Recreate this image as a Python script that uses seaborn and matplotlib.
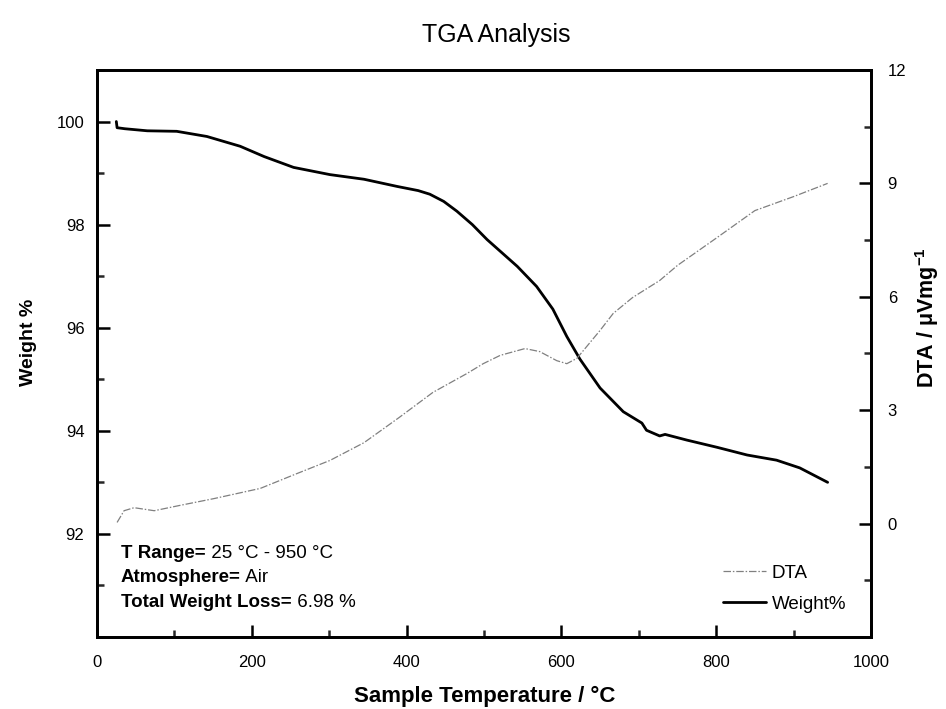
import matplotlib
matplotlib.use("Agg")
import matplotlib.pyplot as plt
import seaborn as sns
import pandas as pd
from matplotlib.ticker import MultipleLocator

# ---- data ----
weight_temp = [25, 26, 36, 65, 103, 142, 185, 216, 254, 301, 345, 388, 415, 430, 448,
               465, 485, 504, 543, 568, 589, 607, 624, 650, 680, 704, 710, 727, 734,
               762, 801, 840, 878, 908, 944]
weight_pct = [100.0, 99.88, 99.86, 99.82, 99.81, 99.71, 99.52, 99.32, 99.11, 98.97,
              98.88, 98.74, 98.66, 98.59, 98.45, 98.26, 98.00, 97.71, 97.19, 96.80,
              96.36, 95.83, 95.39, 94.83, 94.37, 94.15, 94.01, 93.90, 93.93, 93.82,
              93.68, 93.53, 93.43, 93.28, 93.00]

dta_temp = [26, 35, 48, 74, 107, 151, 211, 258, 301, 345, 390, 434, 478, 499, 521,
            553, 572, 594, 607, 620, 650, 667, 692, 727, 750, 800, 850, 900, 944]
dta_val = [0.03, 0.34, 0.42, 0.34, 0.48, 0.66, 0.93, 1.32, 1.67, 2.14, 2.80, 3.47,
           3.97, 4.23, 4.45, 4.63, 4.55, 4.31, 4.23, 4.37, 5.11, 5.56, 5.98, 6.43,
           6.83, 7.55, 8.28, 8.65, 9.00]

left_ticks = [92, 94, 96, 98, 100]
right_ticks = [0, 3, 6, 9, 12]
x_ticks = [0, 200, 400, 600, 800, 1000]

title = "TGA Analysis"
x_label = "Sample Temperature / °C"
y_left_label = "Weight %"
y_right_label = r"DTA / $\mathregular{\mu}$Vmg$^{\mathregular{-1}}$"
info_bold = ["T Range=", "Atmosphere=", "Total Weight Loss="]
info_norm = [" 25 °C - 950 °C", " Air", " 6.98 %"]

df_w = pd.DataFrame({"T": weight_temp, "W": weight_pct})
df_d = pd.DataFrame({"T": dta_temp, "D": dta_val})

sns.set_style("ticks")
plt.rcParams["font.family"] = ["Liberation Sans", "DejaVu Sans"]
plt.rcParams["text.color"] = "black"
plt.rcParams["axes.labelcolor"] = "black"
plt.rcParams["mathtext.fontset"] = "custom"
plt.rcParams["mathtext.rm"] = "Liberation Sans:bold"
plt.rcParams["mathtext.bf"] = "Liberation Sans:bold"
plt.rcParams["mathtext.it"] = "Liberation Sans:bold"

fig = plt.figure(figsize=(9.46, 7.09), dpi=100)
ax = fig.add_axes([0.1025, 0.1016, 0.8182, 0.7997])
ax2 = ax.twinx()

sns.lineplot(data=df_w, x="T", y="W", ax=ax, color="black", linewidth=2.0,
             sort=False, estimator=None, label="Weight%", legend=False)
sns.lineplot(data=df_d, x="T", y="D", ax=ax2, color="#808080", linewidth=0.9,
             sort=False, estimator=None, label="DTA", legend=False)
ax2.lines[0].set_dashes([6, 1.5, 1.2, 1.5])

ax.set_xlim(0, 1000)
ax.set_ylim(90, 101)
ax2.set_ylim(-3, 12)

ax.set_xticks(x_ticks)
ax.xaxis.set_minor_locator(MultipleLocator(100))
ax.set_yticks(left_ticks)
ax.yaxis.set_minor_locator(MultipleLocator(1))
ax2.set_yticks(right_ticks)
ax2.yaxis.set_minor_locator(MultipleLocator(1.5))

for a in (ax, ax2):
    for s in a.spines.values():
        s.set_visible(True)
        s.set_linewidth(2.0)
        s.set_color("black")
    a.tick_params(which="major", direction="in", length=9, width=1.8,
                  labelsize=12, colors="black")
    a.tick_params(which="minor", direction="in", length=5, width=1.8)

ax.tick_params(axis="x", which="both", top=False)
ax.tick_params(axis="x", which="major", pad=13)
ax.tick_params(axis="y", which="both", right=False)
ax.tick_params(axis="y", which="major", pad=9)
ax2.tick_params(axis="y", which="both", left=False, right=True)
ax2.tick_params(axis="y", which="major", pad=12)
ax2.tick_params(axis="x", which="both", top=False, bottom=False)

ax.set_xlabel(x_label, fontsize=16, fontweight="bold")
ax.xaxis.set_label_coords(0.5007, -0.087)
ax.set_ylabel(y_left_label, fontsize=14, fontweight="bold")
ax.yaxis.set_label_coords(-0.078, 0.52)
ax2.set_ylabel(y_right_label, fontsize=15.5, fontweight="bold")
ax2.yaxis.set_label_coords(1.055, 0.563)
fig.text(0.525, 0.951, title, fontsize=18, ha="center", va="center")

# info text
ys = [0.140, 0.097, 0.053]
for b, n, yy in zip(info_bold, info_norm, ys):
    t = ax.text(0.031, yy, b, transform=ax.transAxes, fontsize=13.5,
                fontweight="bold", va="baseline", ha="left")
    ax.annotate(n, xy=(1, 0), xycoords=t, fontsize=13.5, va="bottom", ha="left")

h1, l1 = ax.get_legend_handles_labels()
h2, l2 = ax2.get_legend_handles_labels()
leg = ax2.legend(h2 + h1, l2 + l1, loc="center left", bbox_to_anchor=(0.809, 0.085),
                 frameon=False, fontsize=13.5, handlelength=2.3, handletextpad=0.3,
                 labelspacing=0.72, borderpad=0, borderaxespad=0)

fig.savefig("out.png", dpi=100)
